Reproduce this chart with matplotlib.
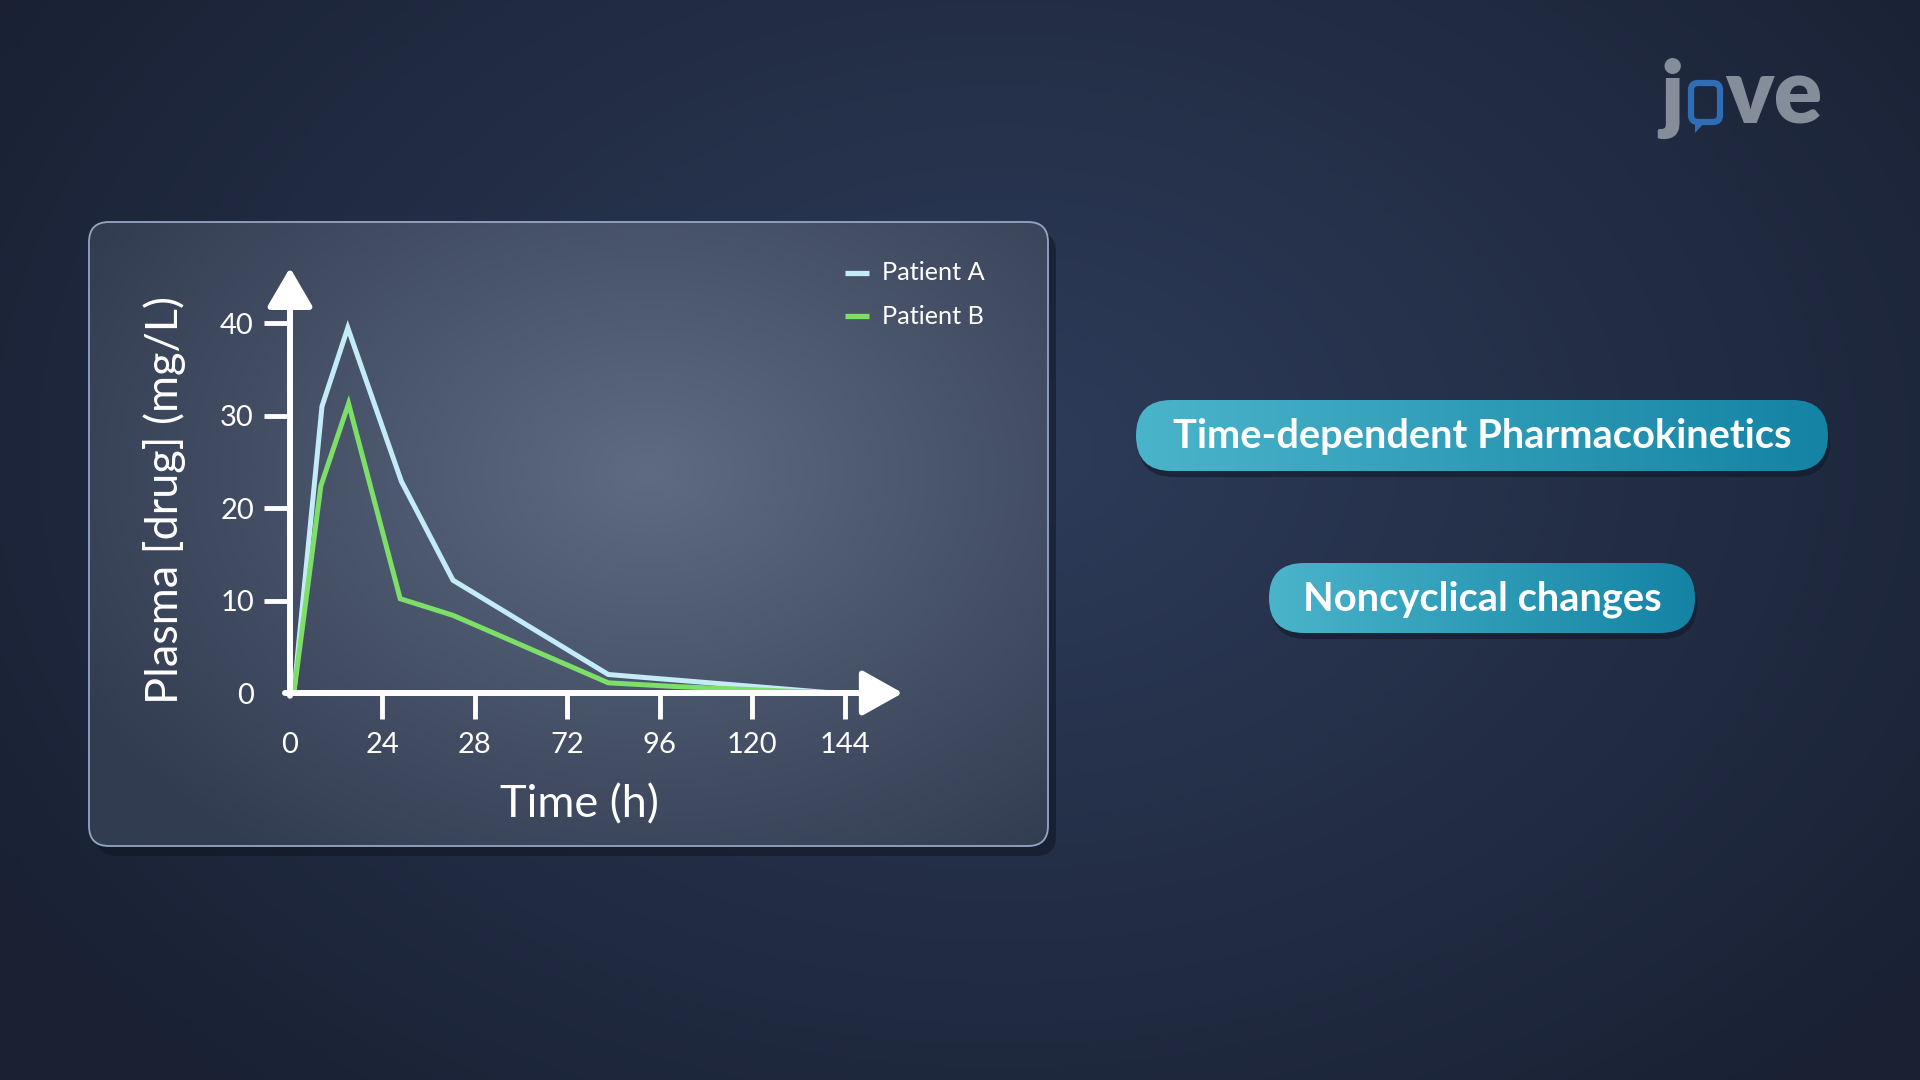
import numpy as np
import matplotlib
matplotlib.use('Agg')
import matplotlib.pyplot as plt
from matplotlib.patches import FancyBboxPatch, Polygon
from matplotlib.colors import to_rgb

plt.rcParams['font.family'] = ['Lato', 'DejaVu Sans']

### data
time_a = [1, 8.3, 15.0, 28.9, 42.3, 82.6, 141]
conc_a = [0, 31.0, 39.5, 22.9, 12.2, 2.0, 0]
time_b = [1, 8.0, 15.2, 28.6, 42.3, 82.6, 100, 141]
conc_b = [0, 22.4, 31.3, 10.2, 8.4, 1.1, 0.7, 0]
xtick_pos = [0, 24, 48, 72, 96, 120, 144]
xtick_lab = ['0', '24', '28', '72', '96', '120', '144']
ytick_pos = [0, 10, 20, 30, 40]
ytick_lab = ['0', '10', '20', '30', '40']
series_names = ['Patient A', 'Patient B']
series_cols = ['#c4ecf7', '#7ddf68']
labels_right = ['Time-dependent Pharmacokinetics', 'Noncyclical changes']

W, H = 1920, 1080

def blend(c1, c2, t):
    c1 = np.array(to_rgb(c1)); c2 = np.array(to_rgb(c2))
    t = np.clip(t, 0, 1)[..., None]
    return c1 * (1 - t) + c2 * t

fig = plt.figure(figsize=(19.2, 10.8), dpi=100)
bg = fig.add_axes([0, 0, 1, 1])
bg.set_xlim(0, W)
bg.set_ylim(0, H)
bg.axis('off')

## background
yy, xx = np.mgrid[0:H:4, 0:W:4]
d = np.sqrt(((xx - 1000) / 1250.0) ** 2 + ((yy - 450) / 900.0) ** 2)
img = blend('#2e3c5a', '#192133', d * 1.05)
bg.imshow(img, extent=[0, W, 0, H], origin='upper', zorder=0, aspect='auto')

## panel
px0, px1 = 89, 1048
py0, py1 = H - 846, H - 222
shadow = FancyBboxPatch((px0 + 8, py0 - 10), px1 - px0, py1 - py0,
                        boxstyle='round,pad=0,rounding_size=20',
                        fc='#0f1522', ec='none', alpha=0.55, zorder=1)
bg.add_patch(shadow)
panel = FancyBboxPatch((px0, py0), px1 - px0, py1 - py0,
                       boxstyle='round,pad=0,rounding_size=20',
                       fc='none', ec='#95a5c4', lw=1.3, zorder=3)
bg.add_patch(panel)
pyy, pxx = np.mgrid[0:(py1 - py0):3, 0:(px1 - px0):3]
pd = np.sqrt(((pxx - 560) / 650.0) ** 2 + ((pyy - 250) / 480.0) ** 2)
pimg = blend('#5e6b83', '#323c51', pd)
im = bg.imshow(pimg, extent=[px0, px1, py0, py1], origin='upper', zorder=2, aspect='auto')
im.set_clip_path(panel)

## pills on the right
def pill(x0, x1, ytop, ybot, text, fs):
    h = ytop - ybot
    sh = FancyBboxPatch((x0 + 2, ybot - 6), x1 - x0, h,
                        boxstyle='round,pad=0,rounding_size=%f' % (h / 2.0),
                        fc='#111a2b', ec='none', alpha=0.6, zorder=1)
    bg.add_patch(sh)
    p = FancyBboxPatch((x0, ybot), x1 - x0, h,
                       boxstyle='round,pad=0,rounding_size=%f' % (h / 2.0),
                       fc='none', ec='none', zorder=3)
    bg.add_patch(p)
    gx = np.linspace(0, 1, 200)[None, :].repeat(10, axis=0)
    gimg = blend('#4ab4ca', '#1483a4', gx)
    gi = bg.imshow(gimg, extent=[x0, x1, ybot, ytop], origin='upper', zorder=2, aspect='auto')
    gi.set_clip_path(p)
    bg.text((x0 + x1) / 2.0, (ytop + ybot) / 2.0 - 1, text, color='white', fontsize=fs,
            fontweight='bold', ha='center', va='center', zorder=4)

pill(1136, 1828, H - 400, H - 471, labels_right[0], 28.7)
pill(1269, 1695, H - 563, H - 633, labels_right[1], 28.7)

## logo
grey = '#868d9a'
bg.text(1660, H - 123, 'j', color=grey, fontsize=63, fontweight='heavy',
        ha='left', va='baseline', zorder=4)
bub = FancyBboxPatch((1691, H - 122), 29, 39, boxstyle='round,pad=0,rounding_size=7',
                     fc='none', ec='#2f6db5', lw=4.5, zorder=4)
bg.add_patch(bub)
bg.add_patch(Polygon([[1695, H - 120], [1707, H - 120], [1695, H - 133]],
                     closed=True, fc='#2f6db5', ec='none', zorder=4))
bg.text(1725, H - 123, 've', color=grey, fontsize=65, fontweight='heavy',
        ha='left', va='baseline', zorder=4)

## axis labels
bg.text(165, H - 500, 'Plasma [drug] (mg/L)', color='white', fontsize=32.5,
        rotation=90, ha='center', va='center', zorder=5)
bg.text(579, H - 805, 'Time (h)', color='white', fontsize=32.5,
        ha='center', va='center', zorder=5)

## legend
for i in range(len(series_names)):
    ly = H - (273 + 43 * i)
    bg.plot([845, 869], [ly, ly], color=series_cols[i], lw=3.8, solid_capstyle='butt', zorder=5)
    bg.text(882, ly, series_names[i], color='white', fontsize=18.2, ha='left', va='center', zorder=5)

## chart
ax = fig.add_axes([290 / W, (H - 693) / H, 578 / W, 416 / H])
ax.patch.set_alpha(0)
ax.set_xlim(0, 150)
ax.set_ylim(0, 45)
for s in ax.spines.values():
    s.set_visible(False)

ax.plot(time_a, conc_a, color=series_cols[0], lw=3.6, solid_joinstyle='miter', zorder=3)
ax.plot(time_b, conc_b, color=series_cols[1], lw=3.6, solid_joinstyle='miter', zorder=3)

ax.annotate('', xy=(159, 0), xytext=(-1.3, 0), xycoords='data',
            arrowprops=dict(arrowstyle='-|>,head_length=1.25,head_width=0.7', lw=4.3,
                            color='white', shrinkA=0, shrinkB=0, mutation_scale=20),
            annotation_clip=False, zorder=4)
ax.annotate('', xy=(0, 46.0), xytext=(0, -0.3), xycoords='data',
            arrowprops=dict(arrowstyle='-|>,head_length=1.2,head_width=0.7', lw=4.3,
                            color='white', shrinkA=0, shrinkB=0, mutation_scale=20),
            annotation_clip=False, zorder=4)

ax.set_xticks(xtick_pos)
ax.set_xticklabels(xtick_lab)
ax.set_yticks(ytick_pos)
ax.set_yticklabels(ytick_lab)
ax.tick_params(axis='both', colors='white', labelcolor='white', labelsize=21,
               length=19, width=3.5, direction='out', pad=7)
ax.tick_params(axis='x', pad=9)
ax.xaxis.get_major_ticks()[0].tick1line.set_visible(False)
ax.yaxis.get_major_ticks()[0].tick1line.set_visible(False)

fig.savefig('out.png', dpi=100)
